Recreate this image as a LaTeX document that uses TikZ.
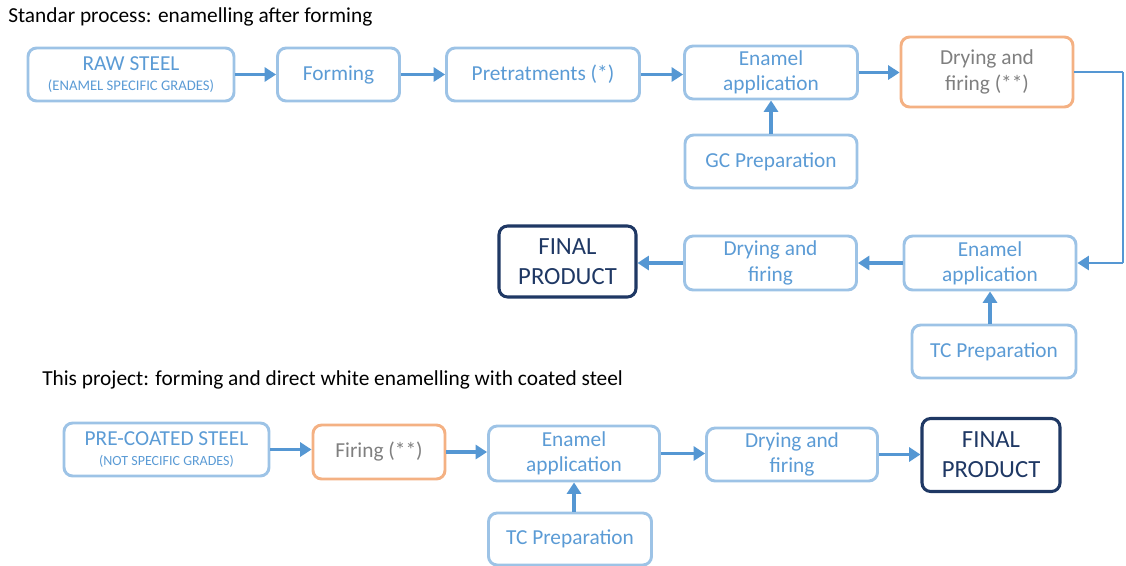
\documentclass[tikz,border=0pt]{standalone}
\usepackage{fontspec}
\setmainfont{Carlito}
\usetikzlibrary{arrows.meta}
\definecolor{boxblue}{HTML}{9DC3E6}
\definecolor{txtblue}{HTML}{5B9BD5}
\definecolor{arrblue}{HTML}{5597D3}
\definecolor{orangeb}{HTML}{F4B183}
\definecolor{graytxt}{HTML}{7F7F7F}
\definecolor{navy}{HTML}{1F3864}
\tikzset{
  bbox/.style={draw=boxblue, line width=2.2pt, rounded corners=6.5pt, text=txtblue,
    align=center, inner sep=0pt, font=\fontsize{16}{19}\selectfont},
  obox/.style={bbox, draw=orangeb, text=graytxt},
  fbox/.style={bbox, draw=navy, text=navy, line width=2.3pt, font=\fontsize{18.5}{22.5}\selectfont},
  flow/.style={draw=arrblue, line width=2.3pt, -{Triangle[length=8.5pt,width=10.5pt]}},
  thinline/.style={draw=arrblue, line width=1.6pt},
  title/.style={anchor=west, inner sep=0pt, font=\fontsize{16}{19}\selectfont}
}
\newcommand{\smalltxt}[2]{{\fontsize{#1}{12}\selectfont #2}}
\begin{document}
\begin{tikzpicture}[x=0.75pt,y=-0.75pt]
\useasboundingbox (0,0) rectangle (1126,565);
% titles
\node[title] (t1) at (8,17) {Standar process: enamelling after forming};
\node[title] (t2) at (42,380) {This project: forming and direct white enamelling with coated steel};
% row 1
\node[bbox, minimum width=206*0.75pt, minimum height=53*0.75pt] (raw) at (131,74.5) {RAW STEEL\\[-4pt]\smalltxt{11}{(ENAMEL SPECIFIC GRADES)}};
\node[bbox, minimum width=122*0.75pt, minimum height=53*0.75pt] (form) at (338.5,74.5) {Forming};
\node[bbox, minimum width=193*0.75pt, minimum height=53*0.75pt] (pre) at (543,74.5) {Pretratments (*)};
\node[bbox, minimum width=173*0.75pt, minimum height=53*0.75pt] (en1) at (771,72.5) {Enamel\\application};
\node[obox, minimum width=172*0.75pt, minimum height=70*0.75pt] (dry1) at (987,72) {Drying and\\firing (**)};
\node[bbox, minimum width=172*0.75pt, minimum height=53*0.75pt] (gc) at (771,161.5) {GC Preparation};
% row 2
\node[fbox, minimum width=137*0.75pt, minimum height=71*0.75pt] (fin1) at (567.5,261.5) {FINAL\\PRODUCT};
\node[bbox, minimum width=172*0.75pt, minimum height=54*0.75pt] (dry2) at (770.5,263) {Drying and\\firing};
\node[bbox, minimum width=172*0.75pt, minimum height=54*0.75pt] (en2) at (990,263) {Enamel\\application};
\node[bbox, minimum width=164*0.75pt, minimum height=53*0.75pt] (tc1) at (994,351.5) {TC Preparation};
\coordinate (c1) at (1123,72);
\coordinate (c2) at (1123,263);
% row 3
\node[bbox, minimum width=205*0.75pt, minimum height=53*0.75pt] (pcs) at (166.5,449.5) {PRE-COATED STEEL\\[-4pt]\smalltxt{10.5}{(NOT SPECIFIC GRADES)}};
\node[obox, minimum width=132*0.75pt, minimum height=54*0.75pt] (fir) at (379,452) {Firing (**)};
\node[bbox, minimum width=171*0.75pt, minimum height=55*0.75pt] (en3) at (574,453.5) {Enamel\\application};
\node[bbox, minimum width=171*0.75pt, minimum height=53*0.75pt] (dry3) at (792,454.5) {Drying and\\firing};
\node[fbox, minimum width=138*0.75pt, minimum height=73*0.75pt] (fin2) at (991,455) {FINAL\\PRODUCT};
\node[bbox, minimum width=163*0.75pt, minimum height=52*0.75pt] (tc2) at (570,539) {TC Preparation};
% connectors row 1
\draw[flow] (raw.east) -- (raw.east -| form.west);
\draw[flow] (form.east) -- (form.east -| pre.west);
\draw[flow] (pre.east) -- (pre.east -| en1.west);
\draw[flow] (en1.east) -- (en1.east -| dry1.west);
\draw[flow] (gc.north) -- (en1.south);
\draw[thinline] (dry1.east) -- (c1);
\draw[draw=arrblue, line width=1pt] (c1) -- (c2);
\draw[flow, line width=1.8pt] (c2) -- (en2.east);
% row 2
\draw[flow] (en2.west) -- (dry2.east);
\draw[flow] (dry2.west) -- (dry2.west -| fin1.east);
\draw[flow] (tc1.north -| en2.south) -- (en2.south);
% row 3
\draw[flow] (pcs.east) -- (pcs.east -| fir.west);
\draw[flow] (fir.east) -- (fir.east -| en3.west);
\draw[flow] (en3.east) -- (en3.east -| dry3.west);
\draw[flow] (dry3.east) -- (dry3.east -| fin2.west);
\draw[flow] (tc2.north -| en3.south) -- (en3.south);
\end{tikzpicture}
\end{document}
